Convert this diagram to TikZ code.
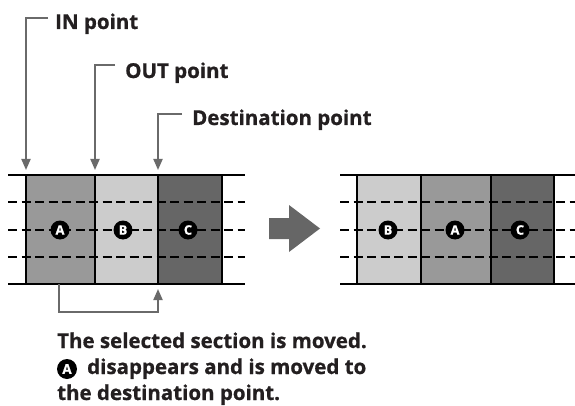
\documentclass[tikz,border=0pt]{standalone}
\usepackage{fontspec}
\setmainfont{Open Sans}[BoldFeatures={FakeBold=0.8}]
\usetikzlibrary{arrows.meta}
\definecolor{txt}{HTML}{231F20}
\definecolor{lead}{HTML}{6A6A6A}
\definecolor{ga}{HTML}{999999}
\definecolor{gb}{HTML}{CCCCCC}
\definecolor{gc}{HTML}{666666}
\begin{document}
\begin{tikzpicture}[x=1pt,y=-1pt,
  cell/.style={draw=black, line width=1.5pt, minimum height=109pt, inner sep=0pt, outer sep=0pt},
  badge/.style={circle, fill=black, text=white, minimum size=19pt, inner sep=0pt,
    font=\bfseries\fontsize{13}{13}\selectfont},
  tbadge/.style={badge, minimum size=20pt, font=\bfseries\fontsize{13.5}{13.5}\selectfont},
  rail/.style={line width=2.6pt, draw=black},
  dashline/.style={line width=2.6pt, draw=black, dash pattern=on 9pt off 4.5pt},
  leader/.style={draw=lead, line width=2pt, -{Triangle[length=11pt,width=9pt]}},
  lbl/.style={anchor=base west, text=txt, inner sep=0pt,
    font=\bfseries\fontsize{20.5}{20.5}\selectfont}
]
\useasboundingbox (0,0) rectangle (575,406);

% ---- left strip ----
\node[cell, fill=ga, minimum width=69pt] (A) at (60.5,229.5) {};
\node[cell, fill=gb, minimum width=63pt] (B) at (126.5,229.5) {};
\node[cell, fill=gc, minimum width=64pt] (C) at (190,229.5) {};
\coordinate (lt1) at (8,175);   \coordinate (lt2) at (245,175);
\coordinate (lb1) at (8,284);   \coordinate (lb2) at (245,284);
\coordinate (ld1) at (8,202);   \coordinate (ld2) at (245,202);
\coordinate (lm1) at (8,230);   \coordinate (lm2) at (245,230);
\coordinate (le1) at (8,257);   \coordinate (le2) at (245,257);
\draw[rail] (lt1) -- (lt2);
\draw[rail] (lb1) -- (lb2);
\draw[dashline] (ld1) -- (ld2);
\draw[dashline] (lm1) -- (lm2);
\draw[dashline] (le1) -- (le2);
\node[badge] (bA) at (60,230) {A};
\node[badge] (bB) at (123,230) {B};
\node[badge] (bC) at (188,230) {C};

% ---- right strip ----
\node[cell, fill=gb, minimum width=64pt] (B2) at (389,229.5) {};
\node[cell, fill=ga, minimum width=70pt] (A2) at (456,229.5) {};
\node[cell, fill=gc, minimum width=63pt] (C2) at (522.5,229.5) {};
\coordinate (rt1) at (340,175); \coordinate (rt2) at (575,175);
\coordinate (rb1) at (340,284); \coordinate (rb2) at (575,284);
\coordinate (rd1) at (340,202); \coordinate (rd2) at (575,202);
\coordinate (rm1) at (340,230); \coordinate (rm2) at (575,230);
\coordinate (re1) at (340,257); \coordinate (re2) at (575,257);
\draw[rail] (rt1) -- (rt2);
\draw[rail] (rb1) -- (rb2);
\draw[dashline] (rd1) -- (rd2);
\draw[dashline] (rm1) -- (rm2);
\draw[dashline] (re1) -- (re2);
\node[badge] (bB2) at (388,230) {B};
\node[badge] (bA2) at (455,230) {A};
\node[badge] (bC2) at (520,230) {C};

% ---- big arrow ----
\fill[gc] (269,218) -- (289,218) -- (289,205) -- (320,228.5) -- (289,252)
  -- (289,239) -- (269,239) -- cycle;

% ---- top labels ----
\node[lbl] (inL) at (55,29) {IN point};
\node[lbl] (outL) at (125,78) {OUT point};
\node[lbl] (dstL) at (192,125) {Destination point};
\coordinate (inS) at (48,18);
\coordinate (outS) at (115,65);
\coordinate (dstS) at (182,114);
\draw[leader] (inS) -| ([yshift=5pt]A.north west);
\draw[leader] (outS) -| ([yshift=5pt]B.north west);
\draw[leader] (dstS) -| ([yshift=5pt]C.north west);

% ---- bracket ----
\draw[leader] ([xshift=-1.5pt]A.south) -- ++(0,28) -| ([yshift=-5pt]C.south west);

% ---- caption ----
\node[lbl] (c1) at (57,348) {The selected section is moved.};
\node[tbadge] (tA) at (67,369) {A};
\node[lbl] (c2) at (87,374) {disappears and is moved to};
\node[lbl] (c3) at (57,400) {the destination point.};
\end{tikzpicture}
\end{document}
